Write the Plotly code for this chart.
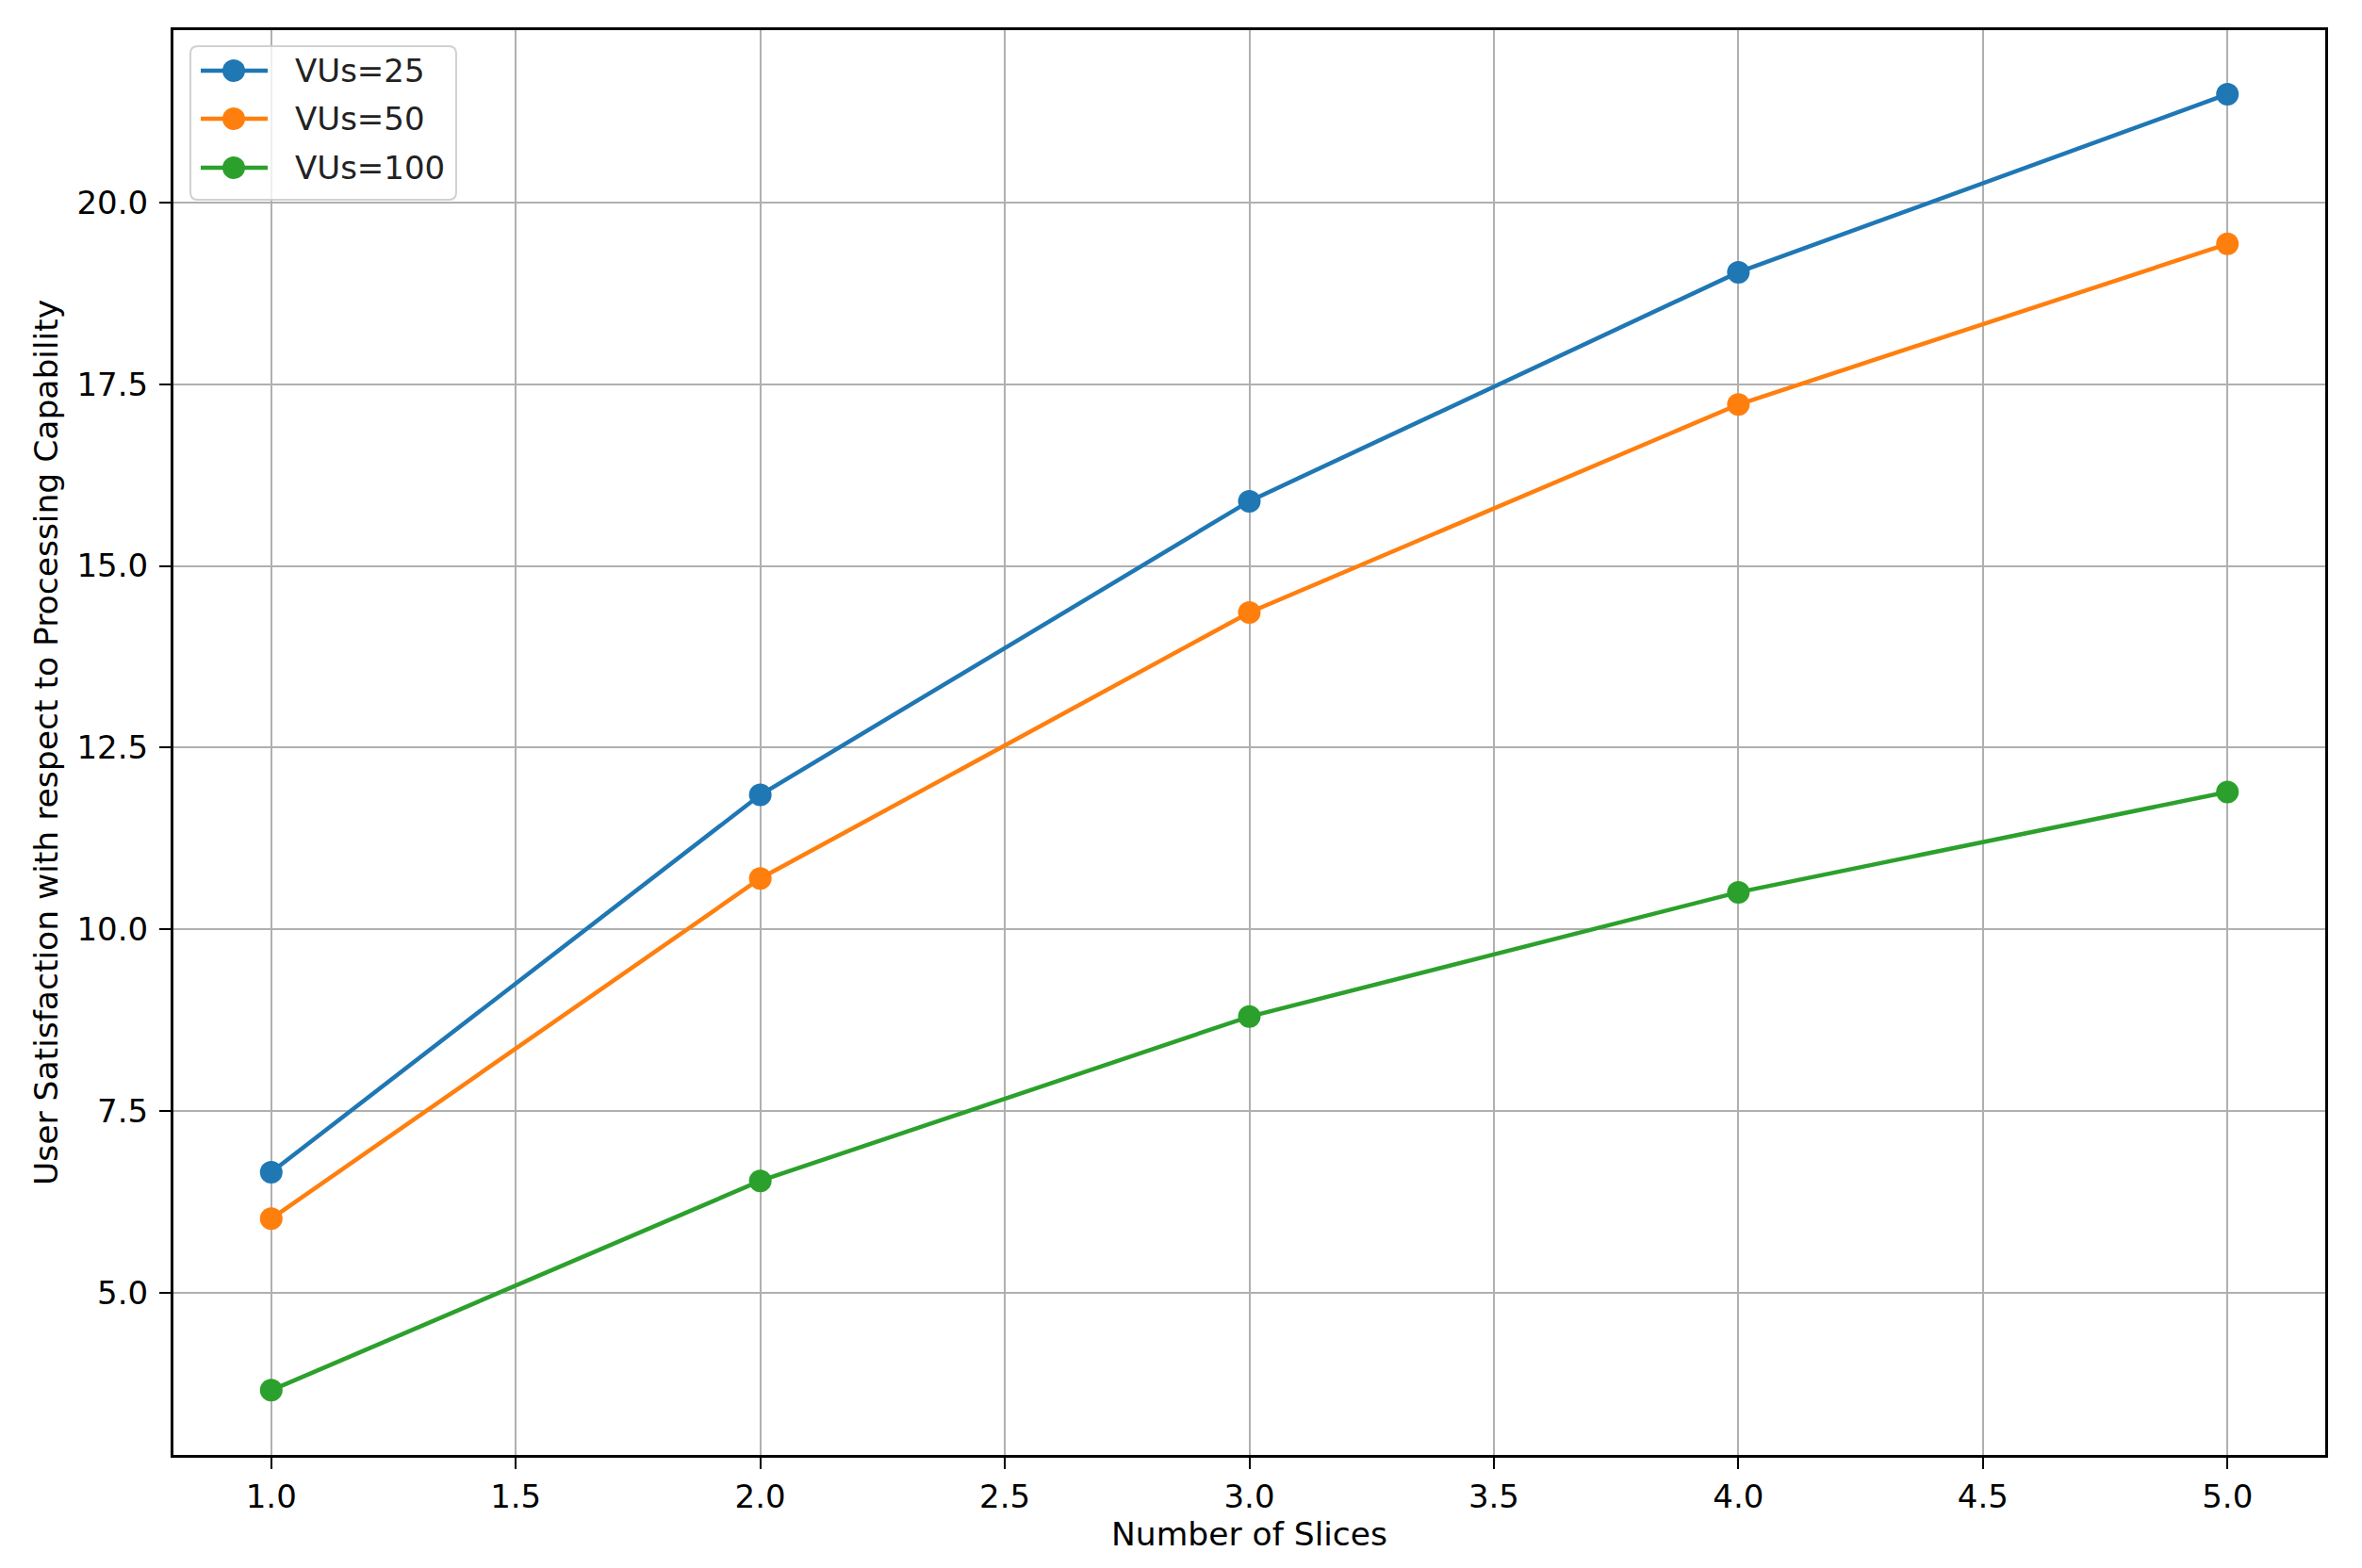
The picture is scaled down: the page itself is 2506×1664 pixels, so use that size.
import plotly.graph_objects as go

slices = [1.0, 2.0, 3.0, 4.0, 5.0]
vus25 = [6.66, 11.85, 15.89, 19.04, 21.49]
vus50 = [6.02, 10.70, 14.36, 17.22, 19.43]
vus100 = [3.66, 6.54, 8.80, 10.51, 11.89]
series_names = ["VUs=25", "VUs=50", "VUs=100"]
series_colors = ["#1f77b4", "#ff7f0e", "#2ca02c"]
x_ticks = [1.0, 1.5, 2.0, 2.5, 3.0, 3.5, 4.0, 4.5, 5.0]
y_ticks = [5.0, 7.5, 10.0, 12.5, 15.0, 17.5, 20.0]

FONT = "DejaVu Sans"
W, H = 2490, 1648
L, R, T, B = 176, 31, 24, 112
PW, PH = W - L - R, H - T - B

def px_x(px):  # px relative to plot left -> paper
    return px / PW

def px_y(py):  # px relative to plot top -> paper
    return 1 - py / PH

fig = go.Figure()
for name, ys, col in zip(series_names, [vus25, vus50, vus100], series_colors):
    fig.add_trace(go.Scatter(
        x=slices, y=ys, name=name, mode="lines+markers",
        line=dict(color=col, width=4.5),
        marker=dict(color=col, size=24),
        showlegend=False,
    ))

axis_common = dict(
    showline=True, linecolor="black", linewidth=3, mirror=True,
    ticks="outside", ticklen=12, tickwidth=2, tickcolor="black",
    showgrid=True, gridcolor="#b0b0b0", gridwidth=2, zeroline=False,
    tickfont=dict(family=FONT, size=34, color="black"),
)
fig.update_xaxes(range=[0.8, 5.2], tickvals=x_ticks,
                 ticktext=[f"{v:.1f}" for v in x_ticks],
                 title=dict(text="Number of Slices", font=dict(family=FONT, size=34.5, color="black"), standoff=10),
                 **axis_common)
fig.update_yaxes(range=[2.77, 22.37], tickvals=y_ticks,
                 ticktext=[f"{v:.1f}" for v in y_ticks],
                 ticklabelstandoff=5,
                 title=dict(text="User Satisfaction with respect to Processing Capability",
                            font=dict(family=FONT, size=34.5, color="black"), standoff=10),
                 **axis_common)

# custom legend (matplotlib style), positions in pixels relative to plot area
shapes = []
annotations = []
bx0, bx1, by0, by1 = 18, 300, 17, 180
rad = 8
shapes.append(dict(
    type="path", xref="paper", yref="paper",
    path=(f"M {px_x(bx0+rad)},{px_y(by0)} L {px_x(bx1-rad)},{px_y(by0)} "
          f"Q {px_x(bx1)},{px_y(by0)} {px_x(bx1)},{px_y(by0+rad)} "
          f"L {px_x(bx1)},{px_y(by1-rad)} Q {px_x(bx1)},{px_y(by1)} {px_x(bx1-rad)},{px_y(by1)} "
          f"L {px_x(bx0+rad)},{px_y(by1)} Q {px_x(bx0)},{px_y(by1)} {px_x(bx0)},{px_y(by1-rad)} "
          f"L {px_x(bx0)},{px_y(by0+rad)} Q {px_x(bx0)},{px_y(by0)} {px_x(bx0+rad)},{px_y(by0)} Z"),
    fillcolor="rgba(255,255,255,0.8)", line=dict(color="rgba(204,204,204,0.9)", width=2),
    layer="above",
))
row_y = [43, 94, 146]
for name, col, ry in zip(series_names, series_colors, row_y):
    shapes.append(dict(type="line", xref="paper", yref="paper",
                       x0=px_x(29), x1=px_x(100), y0=px_y(ry), y1=px_y(ry),
                       line=dict(color=col, width=4.5), layer="above"))
    r = 12
    shapes.append(dict(type="circle", xref="paper", yref="paper",
                       x0=px_x(64 - r), x1=px_x(64 + r), y0=px_y(ry - r), y1=px_y(ry + r),
                       fillcolor=col, line=dict(color=col, width=0), layer="above"))
    annotations.append(dict(xref="paper", yref="paper", x=px_x(127), y=px_y(ry),
                            xanchor="left", yanchor="middle", showarrow=False,
                            text=name, font=dict(family=FONT, size=34, color="#222222")))

fig.update_layout(
    width=W, height=H,
    margin=dict(l=L, r=R, t=T, b=B),
    plot_bgcolor="white", paper_bgcolor="white",
    font=dict(family=FONT, size=34, color="black"),
    showlegend=False,
    shapes=shapes, annotations=annotations,
)
fig.write_html("out.html")
